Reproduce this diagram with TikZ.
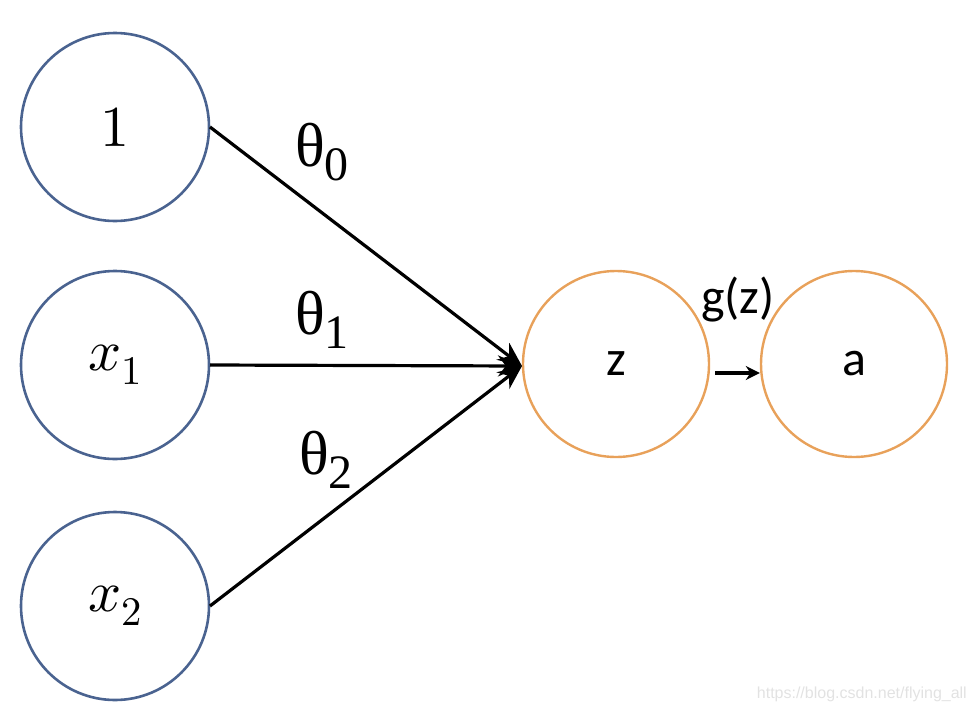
\documentclass[tikz,border=0pt]{standalone}
\usepackage{fontspec}
\usepackage{unicode-math}
\setmathfont{Latin Modern Math}
\newfontfamily\thfont{Liberation Serif}
\newfontfamily\calfont{Carlito}
\newfontfamily\wmfont{Liberation Sans}
\usetikzlibrary{arrows.meta}
\definecolor{bluec}{HTML}{4A6390}
\definecolor{orangec}{HTML}{E8A15A}
\definecolor{wmgray}{HTML}{E2E2E2}
\newcommand{\thsub}[1]{{\thfont\fontsize{62}{64}\selectfont θ\raisebox{-14pt}{\fontsize{48}{50}\selectfont #1}}}
\tikzset{
  inp/.style={circle, draw=bluec, line width=2.6pt, minimum size=188pt, inner sep=0pt},
  outc/.style={circle, draw=orangec, line width=2.4pt, minimum size=186pt, inner sep=0pt},
  conn/.style={line width=3.2pt, black},
  lab/.style={inner sep=0pt},
  mlab/.style={font=\fontsize{58}{60}\selectfont},
}
\begin{document}
\begin{tikzpicture}[x=1pt,y=-1pt]
\useasboundingbox (0,0) rectangle (976,712);
\node[inp, mlab] (n1) at (115,127) {$1$};
\node[inp, mlab] (nx1) at (115,365) {$x_1$};
\node[inp, mlab] (nx2) at (115,606) {$x_2$};
\node[outc, font=\calfont\fontsize{50}{52}\selectfont] (nz) at (616,364) {z};
\node[outc, font=\calfont\fontsize{50}{52}\selectfont] (na) at (854,364) {a};
\coordinate (tip) at (522,366);
\path (n1) ++(95,0) coordinate (s0);
\path (nx1) ++(95,0) coordinate (s1);
\path (nx2) ++(95,0) coordinate (s2);
\draw[conn, -{Stealth[length=24pt,width=21pt]}] (s0) -- (tip);
\draw[conn, -{Stealth[length=24pt,width=21pt]}] (s1) -- (tip);
\draw[conn, -{Stealth[length=24pt,width=21pt]}] (s2) -- (tip);
\coordinate (g0) at (715,373);
\draw[conn, -{Stealth[length=14pt,width=14pt]}] (g0) -- (na.west |- g0);
\node[lab] (t0) at (322,152) {\thsub{0}};
\node[lab] (t1) at (322,320) {\thsub{1}};
\node[lab] (t2) at (326,460) {\thsub{2}};
\node[font=\calfont\fontsize{50}{52}\selectfont, inner sep=0pt] (gz) at (738,300) {g(z)};
\node[font=\wmfont\fontsize{16}{18}\selectfont, text=wmgray, anchor=base east, inner sep=0pt] (wm) at (967,698) {https://blog.csdn.net/flying\_all};
\end{tikzpicture}
\end{document}
